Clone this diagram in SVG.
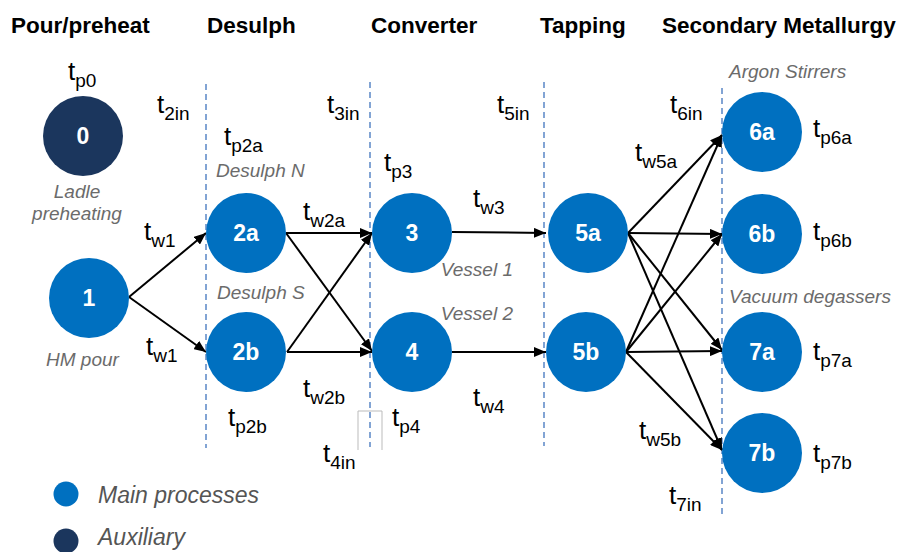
<svg xmlns="http://www.w3.org/2000/svg" width="903" height="552" viewBox="0 0 903 552">
<style>
.hdr{font-family:"Liberation Sans",Arial,sans-serif;font-weight:bold;font-size:22.5px;fill:#000}
.main{fill:#0070C0}
.aux{fill:#1B365D}
.nl{font-family:"Liberation Sans",Arial,sans-serif;font-weight:bold;font-size:23px;fill:#fff;text-anchor:middle}
.t{font-family:"Liberation Sans",Arial,sans-serif;font-size:26px;fill:#000}
.s{font-size:19px}
.it{font-family:"Liberation Sans",Arial,sans-serif;font-style:italic;font-size:19px;fill:#6b6b6b}
.leg{font-family:"Liberation Sans",Arial,sans-serif;font-style:italic;font-size:23px;fill:#555}
.dash{stroke:#5a87c6;stroke-width:1.5;stroke-dasharray:6 4;fill:none}
.arr{stroke:#000;stroke-width:2;fill:none;marker-end:url(#ah)}
</style>
<defs>
<marker id="ah" viewBox="0 0 12 10" markerWidth="12" markerHeight="10" markerUnits="userSpaceOnUse" refX="12" refY="5" orient="auto">
<path d="M0,0 L12,5 L0,10 z" fill="#000"/>
</marker>
</defs>
<rect width="903" height="552" fill="#fff"/>
<g id="headers">
<text class="hdr" x="11" y="33">Pour/preheat</text>
<text class="hdr" x="207" y="33">Desulph</text>
<text class="hdr" x="371" y="33">Converter</text>
<text class="hdr" x="540" y="33">Tapping</text>
<text class="hdr" x="662" y="33">Secondary Metallurgy</text>
</g>
<g id="dividers">
<line class="dash" x1="206" y1="84" x2="206" y2="448"/>
<line class="dash" x1="370" y1="82" x2="370" y2="447"/>
<line class="dash" x1="544" y1="82" x2="544" y2="446"/>
<line class="dash" x1="722" y1="88" x2="722" y2="518"/>
<path d="M358,450 L358,411 L382,411 L382,450" stroke="#bbb" stroke-width="1" fill="none"/>
</g>
<g id="connectors">
<line class="arr" x1="129" y1="297" x2="206" y2="233"/>
<line class="arr" x1="129" y1="297" x2="206" y2="352"/>
<line class="arr" x1="286" y1="233" x2="372" y2="233"/>
<line class="arr" x1="286" y1="233" x2="372" y2="351"/>
<line class="arr" x1="287" y1="352" x2="372" y2="233"/>
<line class="arr" x1="287" y1="352" x2="372" y2="352"/>
<line class="arr" x1="452" y1="232" x2="546" y2="233"/>
<line class="arr" x1="452" y1="352" x2="546" y2="352"/>
<line class="arr" x1="628" y1="233" x2="722" y2="135"/>
<line class="arr" x1="628" y1="233" x2="722" y2="234"/>
<line class="arr" x1="628" y1="233" x2="722" y2="350"/>
<line class="arr" x1="628" y1="233" x2="722" y2="450"/>
<line class="arr" x1="626" y1="352" x2="722" y2="135"/>
<line class="arr" x1="626" y1="352" x2="722" y2="234"/>
<line class="arr" x1="626" y1="352" x2="722" y2="351"/>
<line class="arr" x1="626" y1="352" x2="722" y2="450"/>
</g>
<g id="node0"><circle class="aux" cx="83" cy="136" r="40"/><text class="nl" x="83" y="144">0</text></g>
<g id="node1"><circle class="main" cx="89" cy="298" r="40"/><text class="nl" x="89" y="306">1</text></g>
<g id="node2a"><circle class="main" cx="246" cy="233" r="40"/><text class="nl" x="246" y="241">2a</text></g>
<g id="node2b"><circle class="main" cx="246" cy="352" r="40"/><text class="nl" x="246" y="360">2b</text></g>
<g id="node3"><circle class="main" cx="412" cy="233" r="40"/><text class="nl" x="412" y="241">3</text></g>
<g id="node4"><circle class="main" cx="412" cy="352" r="40"/><text class="nl" x="412" y="360">4</text></g>
<g id="node5a"><circle class="main" cx="588" cy="233" r="40"/><text class="nl" x="588" y="241">5a</text></g>
<g id="node5b"><circle class="main" cx="586" cy="352" r="40"/><text class="nl" x="586" y="360">5b</text></g>
<g id="node6a"><circle class="main" cx="762" cy="132" r="40"/><text class="nl" x="762" y="140">6a</text></g>
<g id="node6b"><circle class="main" cx="762" cy="234" r="40"/><text class="nl" x="762" y="242">6b</text></g>
<g id="node7a"><circle class="main" cx="762" cy="352" r="40"/><text class="nl" x="762" y="360">7a</text></g>
<g id="node7b"><circle class="main" cx="762" cy="453" r="40"/><text class="nl" x="762" y="461">7b</text></g>
<g id="captions">
<text class="it" x="77" y="198" text-anchor="middle">Ladle</text>
<text class="it" x="77" y="220" text-anchor="middle">preheating</text>
<text class="it" x="46" y="366">HM pour</text>
<text class="it" x="216" y="177">Desulph N</text>
<text class="it" x="217" y="299">Desulph S</text>
<text class="it" x="513" y="276" text-anchor="end">Vessel 1</text>
<text class="it" x="513" y="320" text-anchor="end">Vessel 2</text>
<text class="it" x="729" y="78">Argon Stirrers</text>
<text class="it" x="729" y="303">Vacuum degassers</text>
</g>
<g id="times">
<text class="t" x="68" y="80">t<tspan class="s" dy="7">p0</tspan></text>
<text class="t" x="157" y="113">t<tspan class="s" dy="7">2in</tspan></text>
<text class="t" x="327" y="113">t<tspan class="s" dy="7">3in</tspan></text>
<text class="t" x="497" y="113">t<tspan class="s" dy="7">5in</tspan></text>
<text class="t" x="670" y="113">t<tspan class="s" dy="7">6in</tspan></text>
<text class="t" x="224" y="145">t<tspan class="s" dy="7">p2a</tspan></text>
<text class="t" x="384" y="171">t<tspan class="s" dy="7">p3</tspan></text>
<text class="t" x="635" y="161">t<tspan class="s" dy="7">w5a</tspan></text>
<text class="t" x="813" y="137">t<tspan class="s" dy="7">p6a</tspan></text>
<text class="t" x="813" y="240">t<tspan class="s" dy="7">p6b</tspan></text>
<text class="t" x="473" y="207">t<tspan class="s" dy="7">w3</tspan></text>
<text class="t" x="144" y="240">t<tspan class="s" dy="7">w1</tspan></text>
<text class="t" x="303" y="220">t<tspan class="s" dy="7">w2a</tspan></text>
<text class="t" x="146" y="355">t<tspan class="s" dy="7">w1</tspan></text>
<text class="t" x="303" y="397">t<tspan class="s" dy="7">w2b</tspan></text>
<text class="t" x="228" y="426">t<tspan class="s" dy="7">p2b</tspan></text>
<text class="t" x="392" y="426">t<tspan class="s" dy="7">p4</tspan></text>
<text class="t" x="323" y="462">t<tspan class="s" dy="7">4in</tspan></text>
<text class="t" x="473" y="406">t<tspan class="s" dy="7">w4</tspan></text>
<text class="t" x="639" y="439">t<tspan class="s" dy="7">w5b</tspan></text>
<text class="t" x="813" y="360">t<tspan class="s" dy="7">p7a</tspan></text>
<text class="t" x="813" y="462">t<tspan class="s" dy="7">p7b</tspan></text>
<text class="t" x="669" y="504">t<tspan class="s" dy="7">7in</tspan></text>
</g>
<g id="legend">
<circle class="main" cx="66" cy="494" r="12.5"/>
<text class="leg" x="98" y="503">Main processes</text>
<circle class="aux" cx="66" cy="541" r="12.5"/>
<text class="leg" x="98" y="545">Auxiliary</text>
</g>
</svg>
